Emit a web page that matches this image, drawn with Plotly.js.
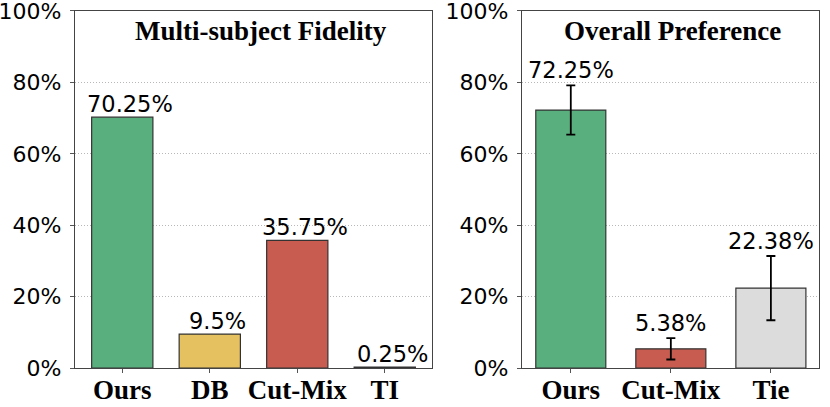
<!DOCTYPE html>
<html>
<head>
<meta charset="utf-8">
<script src="https://cdn.plot.ly/plotly-3.0.1.min.js"></script>
<style>
  html, body { margin: 0; padding: 0; background: #fff; }
  #chart { width: 830px; height: 407px; }
</style>
</head>
<body>
<div id="chart"></div>
<script>
// Left panel: multi-subject fidelity
const fidelityCats = ['Ours', 'DB', 'Cut-Mix', 'TI'];
const fidelityVals = [70.25, 9.5, 35.75, 0.25];
const fidelityColors = ['#5aaf7e', '#e5c160', '#c85c50', '#ffffff'];

// Right panel: overall preference with error bars
const prefCats = ['Ours', 'Cut-Mix', 'Tie'];
const prefVals = [72.25, 5.38, 22.38];
const prefErr = [6.9, 3.0, 9.0];
const prefColors = ['#5aaf7e', '#c85c50', '#dcdcdc'];

const yTicks = [0, 20, 40, 60, 80, 100];
const yTickText = yTicks.map(v => v + '%');

const labelFont = { family: 'DejaVu Sans', size: 22.5, color: '#000' };
const catFont = { family: 'Liberation Serif', size: 27, color: '#000' };
const titleFont = { family: 'Liberation Serif', size: 27, color: '#000' };

const trace1 = {
  type: 'bar',
  x: fidelityCats,
  y: fidelityVals,
  width: 0.7,
  marker: { color: fidelityColors, line: { color: '#333', width: 1.2 } },
  xaxis: 'x',
  yaxis: 'y',
  hoverinfo: 'none',
};

const trace2 = {
  type: 'bar',
  x: prefCats,
  y: prefVals,
  width: 0.7,
  marker: { color: prefColors, line: { color: '#333', width: 1.2 } },
  error_y: { type: 'data', array: prefErr, visible: true, color: '#000', thickness: 1.8, width: 4.5 },
  xaxis: 'x2',
  yaxis: 'y2',
  hoverinfo: 'none',
};

// Value labels above bars (and above error bars on the right)
const annotations = [];
fidelityCats.forEach((c, i) => {
  annotations.push({
    x: c, y: fidelityVals[i], xref: 'x', yref: 'y',
    text: fidelityVals[i] + '%', showarrow: false,
    xanchor: 'center', yanchor: 'bottom', xshift: 8, yshift: -2, font: labelFont,
  });
});
prefCats.forEach((c, i) => {
  annotations.push({
    x: c, y: prefVals[i] + prefErr[i], xref: 'x2', yref: 'y2',
    text: prefVals[i] + '%', showarrow: false,
    xanchor: 'center', yanchor: 'bottom', yshift: 0, font: labelFont,
  });
});

// Panel titles inside the plot area
annotations.push({
  x: 0.315, y: 0.925, xref: 'paper', yref: 'paper',
  xanchor: 'center', yanchor: 'middle',
  text: '<b>Multi-subject Fidelity</b>', showarrow: false, font: titleFont,
});
annotations.push({
  x: 0.81, y: 0.925, xref: 'paper', yref: 'paper',
  xanchor: 'center', yanchor: 'middle',
  text: '<b>Overall Preference</b>', showarrow: false, font: titleFont,
});

function yAxis(anchor) {
  return {
    anchor,
    domain: [0.0958, 0.973],
    range: [-0.0001, 100.001],
    tickmode: 'array',
    tickvals: yTicks,
    ticktext: yTickText,
    ticks: 'outside',
    ticklen: 4,
    tickcolor: '#555',
    ticklabelstandoff: 4,
    ticklabeloverflow: 'allow',
    tickfont: { family: 'DejaVu Sans', size: 22, color: '#000' },
    showgrid: true,
    gridcolor: '#b8b8b8',
    griddash: '1px,2px',
    gridwidth: 1,
    showline: true,
    linecolor: '#444',
    linewidth: 1.2,
    mirror: true,
    zeroline: false,
    fixedrange: true,
  };
}

function xAxis(anchor, domain, range) {
  return {
    anchor,
    domain,
    range,
    type: 'category',
    ticks: 'outside',
    ticklen: 4,
    tickcolor: '#555',
    ticklabelstandoff: -7,
    tickfont: catFont,
    tickprefix: '<b>',
    ticksuffix: '</b>',
    showline: true,
    linecolor: '#444',
    linewidth: 1.2,
    mirror: true,
    showgrid: false,
    zeroline: false,
    fixedrange: true,
  };
}

const layout = {
  width: 830,
  height: 407,
  margin: { l: 0, r: 0, t: 0, b: 0 },
  paper_bgcolor: '#fff',
  plot_bgcolor: '#fff',
  showlegend: false,
  xaxis: xAxis('y', [0.0904, 0.5205], [-0.54, 3.54]),
  yaxis: yAxis('x'),
  xaxis2: xAxis('y2', [0.629, 0.987], [-0.487, 2.483]),
  yaxis2: yAxis('x2'),
  annotations,
};

const config = { staticPlot: true };

Plotly.newPlot('chart', [trace1, trace2], layout, config);
</script>
</body>
</html>
